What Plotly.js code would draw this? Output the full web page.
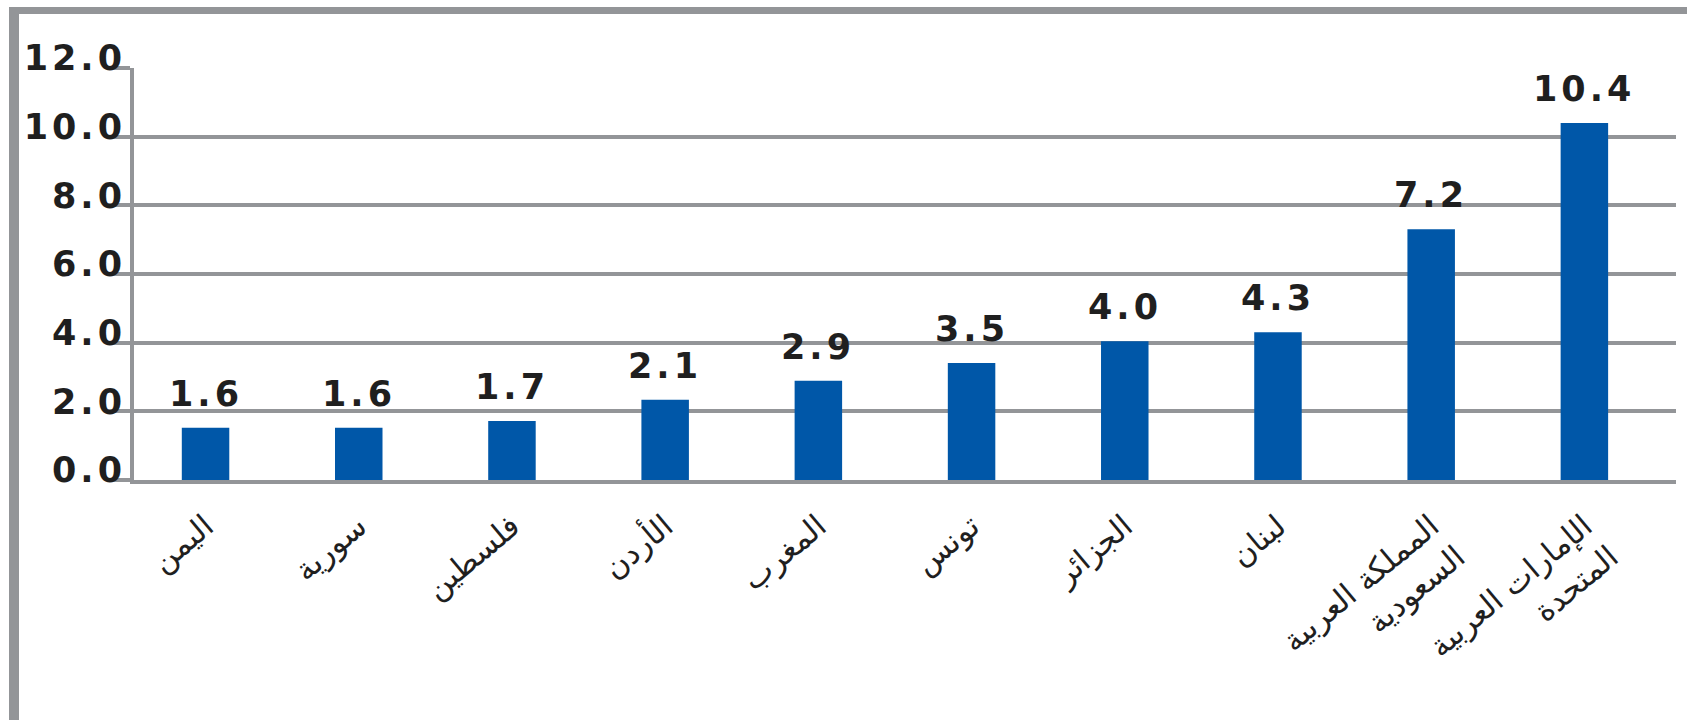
<!DOCTYPE html>
<html>
<head>
<meta charset="utf-8">
<script src="https://cdn.plot.ly/plotly-3.0.1.min.js"></script>
<style>
  html, body { margin: 0; padding: 0; background: #ffffff; }
  #frame {
    position: absolute; left: 9px; top: 7px;
    width: 1678px; height: 710px;
    border-left: 10px solid #939598;
    border-top: 7px solid #939598;
    border-bottom: 3px solid #939598;
    overflow: hidden;
  }
  #chart { width: 1668px; height: 703px; }
  .ytick text, .annotation-text { letter-spacing: 4px; }
  .xtick text { letter-spacing: 3px; }
</style>
</head>
<body>
<div id="frame"><div id="chart"></div></div>
<script>
// Categories (countries) as on the x axis
const categories = [
  "اليمن",
  "سورية",
  "فلسطين",
  "الأردن",
  "المغرب",
  "تونس",
  "الجزائر",
  "لبنان",
  "المملكة العربية<br>السعودية",
  "الإمارات العربية<br>المتحدة"
];
// Bar heights
const barValues = [1.52, 1.52, 1.72, 2.34, 2.89, 3.41, 4.04, 4.3, 7.3, 10.4];
// Data labels printed above the bars
const valueLabels = ["1.6", "1.6", "1.7", "2.1", "2.9", "3.5", "4.0", "4.3", "7.2", "10.4"];
// Y axis ticks
const yTickVals = [0, 2, 4, 6, 8, 10, 12];
const yTickText = ["0.0", "2.0", "4.0", "6.0", "8.0", "10.0", "12.0"];

const GRID = "#939598";
const BAR = "#0057a8";
const TXT = "#1f1f1f";
const FONT = "DejaVu Sans";

const annotations = categories.map((c, i) => ({
  x: c, y: barValues[i], text: valueLabels[i],
  xref: "x", yref: "y", showarrow: false,
  yanchor: "bottom", xanchor: "center", yshift: 12,
  font: { family: FONT, size: 35, color: TXT, weight: "bold" }
}));

const data = [{
  type: "bar",
  x: categories,
  y: barValues,
  marker: { color: BAR },
  hoverinfo: "skip"
}];

const layout = {
  width: 1668, height: 703,
  margin: { l: 115, r: 11, t: 54, b: 237 },
  paper_bgcolor: "#ffffff",
  plot_bgcolor: "#ffffff",
  showlegend: false,
  bargap: 0.69,
  xaxis: {
    type: "category",
    range: [-0.467, 9.598],
    showgrid: false,
    showline: true, linecolor: GRID, linewidth: 4,
    ticks: "",
    tickangle: -40,
    tickfont: { family: FONT, size: 31, color: TXT },
    ticklabelstandoff: 12,
    zeroline: false
  },
  yaxis: {
    range: [0, 12],
    tickvals: yTickVals,
    ticktext: yTickText,
    showgrid: true, gridcolor: GRID, gridwidth: 4,
    showline: true, linecolor: GRID, linewidth: 4,
    ticks: "outside", ticklen: 22, tickwidth: 4, tickcolor: GRID,
    tickfont: { family: FONT, size: 35, color: TXT, weight: "bold" },
    ticklabelshift: -10,
    ticklabelstandoff: -25,
    zeroline: false
  },
  annotations: annotations
};

Plotly.newPlot("chart", data, layout, { displayModeBar: false, staticPlot: true });
</script>
</body>
</html>
